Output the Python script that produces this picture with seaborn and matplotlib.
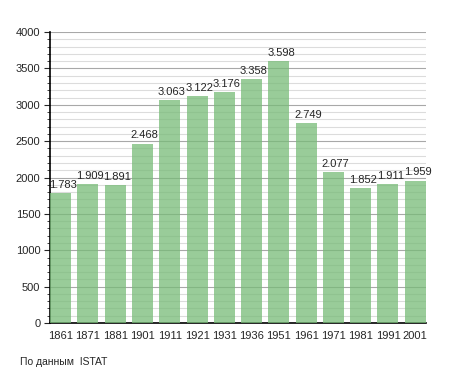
import numpy as np
import pandas as pd
import matplotlib
matplotlib.use("Agg")
import matplotlib.pyplot as plt
import seaborn as sns
from matplotlib.ticker import MultipleLocator

years = ["1861", "1871", "1881", "1901", "1911", "1921", "1931",
         "1936", "1951", "1961", "1971", "1981", "1991", "2001"]
population = [1783, 1909, 1891, 2468, 3063, 3122, 3176,
              3358, 3598, 2749, 2077, 1852, 1911, 1959]
source_note = "По данным  ISTAT"

df = pd.DataFrame({"year": years, "pop": population})

sns.set_style("white")
plt.rcParams['font.family'] = ['Liberation Sans', 'DejaVu Sans']

fig = plt.figure(figsize=(4.55, 3.73), dpi=100)
ax = fig.add_axes([0.110, 0.134, 0.826, 0.780])

# półprzezroczyste słupki - siatka prześwituje jak w oryginale
sns.barplot(data=df, x="year", y="pop", color="#77bb77", saturation=1,
            width=0.77, linewidth=0, alpha=0.75, ax=ax, zorder=3)

ax.set_ylim(0, 4000)
ax.set_xlim(-0.39, len(years) - 0.61)
ax.yaxis.set_major_locator(MultipleLocator(500))
ax.yaxis.set_minor_locator(MultipleLocator(100))
ax.grid(axis="y", which="major", color="#a8a8a8", linewidth=0.8, zorder=0)
ax.grid(axis="y", which="minor", color="#dcdcdc", linewidth=0.8, zorder=0)
ax.set_axisbelow(True)

for s in ["top", "right"]:
    ax.spines[s].set_visible(False)
ax.spines["left"].set_color("black")
ax.spines["bottom"].set_color("black")
ax.spines["left"].set_linewidth(1.2)
ax.spines["bottom"].set_linewidth(1.2)

ax.tick_params(axis="y", which="major", left=True, length=4, width=0.8, labelsize=8, pad=3)
ax.tick_params(axis="y", which="minor", left=True, length=2, width=0.6)
ax.tick_params(axis="x", bottom=False, labelsize=8, pad=2)
ax.set_xlabel("")
ax.set_ylabel("")

for i, v in enumerate(population):
    ax.text(i + 0.08, v + 45, f"{v:,}".replace(",", "."), ha="center", va="bottom",
            fontsize=8, zorder=4)

fig.text(20 / 455, 1 - 362 / 373, source_note, fontsize=7.5, va="center", ha="left")

fig.savefig("out.png", dpi=100)
